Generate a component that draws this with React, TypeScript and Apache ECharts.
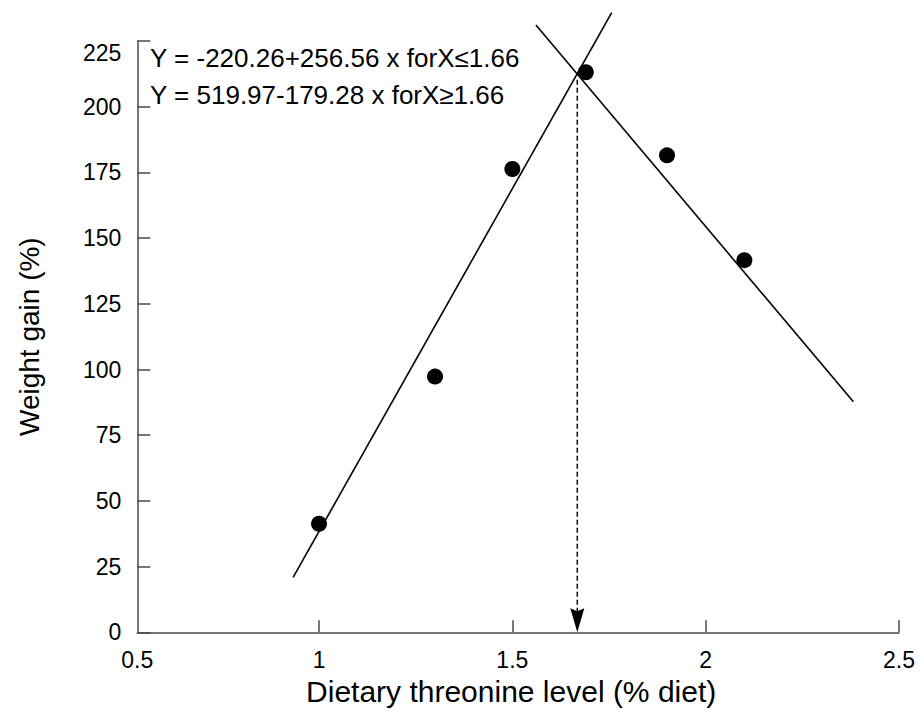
import React, { useEffect, useRef } from 'react';
import * as echarts from 'echarts';

// Observed data points
const threonineLevels = [1.0, 1.3, 1.5, 1.69, 1.9, 2.1];
const weightGain = [41.3, 97.3, 176.3, 213.1, 181.5, 141.6];

// Broken-line regression segments (end points)
const ascendingSegment = [
  [0.933, 20.9],
  [1.757, 235.8],
];
const descendingSegment = [
  [1.561, 231.1],
  [2.382, 87.7],
];

// Breakpoint marker
const breakpointX = 1.668;
const breakpointY = 213.3;

// Axes
const xAxisStart = 0.53;
const xAxisEnd = 2.5;
const xLabelValues = [0.53, 1, 1.5, 2, 2.5];
const xLabelTexts = ['0.5', '1', '1.5', '2', '2.5'];
const xTickValues = [1, 1.5, 2, 2.5];
const yMin = 0;
const yMax = 225;
const yInterval = 25;

const equations = [
  'Y = -220.26+256.56 x forX\u22641.66',
  'Y = 519.97-179.28 x forX\u22651.66',
];

const FONT = '"Liberation Sans", Arial, Helvetica, sans-serif';
const AXIS_COLOR = '#4a4a4a';

export default function App() {
  const ref = useRef<HTMLDivElement>(null);

  useEffect(() => {
    if (!ref.current) return;
    const chart = echarts.init(ref.current, null, { renderer: 'svg' });

    const points = threonineLevels.map((x, i) => [x, weightGain[i]]);

    const option: any = {
      animation: false,
      backgroundColor: '#fff',
      textStyle: { fontFamily: FONT },
      grid: { left: 137.3, right: 22, top: 41, bottom: 92.7, containLabel: false },
      xAxis: {
        type: 'value',
        min: xAxisStart,
        max: xAxisEnd,
        name: 'Dietary threonine level (% diet)',
        nameLocation: 'middle',
        nameGap: 36,
        nameTextStyle: { fontSize: 30, color: '#000', fontFamily: FONT, padding: [0, 14, 0, 0] },
        axisLine: { show: true, onZero: false, lineStyle: { color: AXIS_COLOR, width: 1.5 } },
        axisTick: {
          show: true,
          inside: true,
          length: 12,
          customValues: xTickValues,
          lineStyle: { color: AXIS_COLOR, width: 1.5 },
        },
        axisLabel: {
          show: true,
          customValues: xLabelValues,
          formatter: (v: number) => {
            const idx = xLabelValues.findIndex((t) => Math.abs(t - v) < 1e-6);
            return idx >= 0 ? xLabelTexts[idx] : '';
          },
          fontSize: 23,
          color: '#000',
          margin: 16,
          fontFamily: FONT,
        },
        splitLine: { show: false },
      },
      yAxis: {
        type: 'value',
        min: yMin,
        max: yMax,
        interval: yInterval,
        name: 'Weight gain (%)',
        nameLocation: 'middle',
        nameGap: 94,
        nameTextStyle: { fontSize: 28, color: '#000', fontFamily: FONT },
        axisLine: { show: true, onZero: false, lineStyle: { color: AXIS_COLOR, width: 1.5 } },
        axisTick: { show: true, inside: true, length: 13, lineStyle: { color: AXIS_COLOR, width: 1.5 } },
        axisLabel: {
          fontSize: 23,
          color: '#000',
          margin: 16,
          fontFamily: FONT,
          verticalAlignMaxLabel: 'top',
        },
        splitLine: { show: false },
      },
      graphic: equations.map((t, i) => ({
        type: 'text',
        x: 150,
        y: 57.5 + i * 37.5,
        silent: true,
        style: {
          text: t,
          fill: '#000',
          font: `26px ${FONT}`,
          textVerticalAlign: 'middle',
          verticalAlign: 'middle',
        },
      })),
      series: [
        {
          type: 'line',
          data: ascendingSegment,
          showSymbol: false,
          symbol: 'none',
          clip: false,
          lineStyle: { color: '#000', width: 1.6 },
          silent: true,
          z: 2,
        },
        {
          type: 'line',
          data: descendingSegment,
          showSymbol: false,
          symbol: 'none',
          clip: false,
          lineStyle: { color: '#000', width: 1.6 },
          silent: true,
          z: 2,
        },
        {
          type: 'line',
          data: [
            [breakpointX, breakpointY - 3],
            [breakpointX, 8],
          ],
          showSymbol: false,
          symbol: 'none',
          clip: false,
          lineStyle: { color: '#000', width: 1.5, type: [5, 3] },
          silent: true,
          z: 2,
        },
        {
          type: 'scatter',
          data: [[breakpointX, 0]],
          symbol: 'path://M7,24 L0,0 L7,3 L14,0 Z',
          symbolSize: [14, 24],
          symbolOffset: [0, -12],
          itemStyle: { color: '#000', opacity: 1 },
          silent: true,
          clip: false,
          z: 3,
        },
        {
          type: 'scatter',
          data: points,
          symbol: 'circle',
          symbolSize: 16,
          itemStyle: { color: '#000', opacity: 1 },
          clip: false,
          z: 4,
        },
      ],
    };

    chart.setOption(option);
    return () => chart.dispose();
  }, []);

  return (
    <div
      ref={ref}
      style={{ position: 'fixed', left: 0, top: 0, width: 921, height: 725, background: '#fff' }}
    />
  );
}
